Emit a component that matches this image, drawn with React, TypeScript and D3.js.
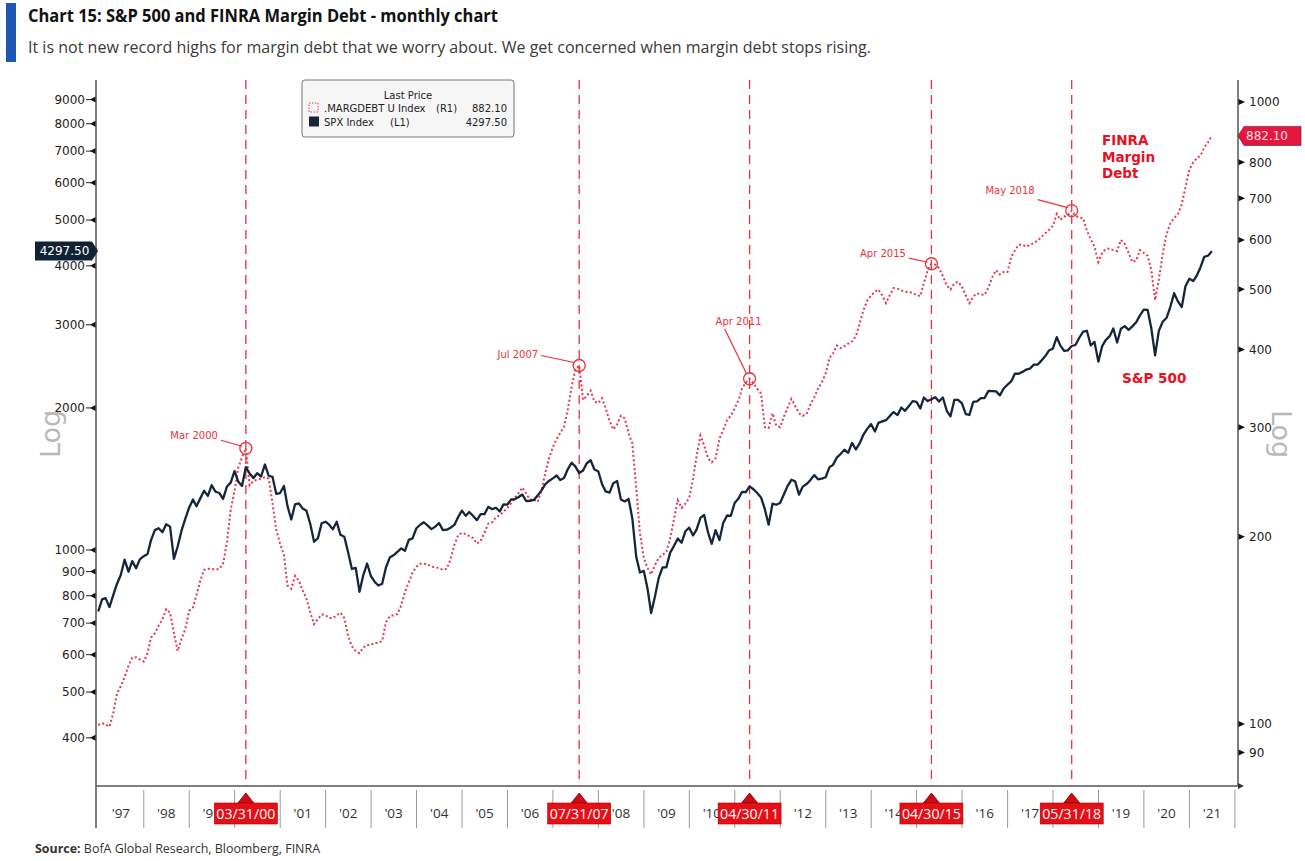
import React from "react";
import * as d3 from "d3";

// ---------------- DATA ----------------
// Monthly observations, first one = Dec 1996 month-end, last = Jun 2021.
const firstObs = { year: 1996, month: 11 };

const spxMonthly: number[] = [
  740.74,
  786.16, 790.82, 757.12, 801.34, 848.28, 885.14, 954.31, 899.47, 947.28, 914.62, 955.4, 970.43,
  980.28, 1049.34, 1101.75, 1111.75, 1090.82, 1133.84, 1120.67, 957.28, 1017.01, 1098.67, 1163.63, 1229.23,
  1279.64, 1238.33, 1286.37, 1335.18, 1301.84, 1372.71, 1328.72, 1320.41, 1282.71, 1362.93, 1388.91, 1469.25,
  1394.46, 1366.42, 1498.58, 1452.43, 1420.6, 1454.6, 1430.83, 1517.68, 1436.51, 1429.4, 1314.95, 1320.28,
  1366.01, 1239.94, 1160.33, 1249.46, 1255.82, 1224.38, 1211.23, 1133.58, 1040.94, 1059.78, 1139.45, 1148.08,
  1130.2, 1106.73, 1147.39, 1076.92, 1067.14, 989.82, 911.62, 916.07, 815.28, 885.76, 936.31, 879.82,
  855.7, 841.15, 848.18, 916.92, 963.59, 974.5, 990.31, 1008.01, 995.97, 1050.71, 1058.2, 1111.92,
  1131.13, 1144.94, 1126.21, 1107.3, 1120.68, 1140.84, 1101.72, 1104.24, 1114.58, 1130.2, 1173.82, 1211.92,
  1181.27, 1203.6, 1180.59, 1156.85, 1191.5, 1191.33, 1234.18, 1220.33, 1228.81, 1207.01, 1249.48, 1248.29,
  1280.08, 1280.66, 1294.83, 1310.61, 1270.09, 1270.2, 1276.66, 1303.82, 1335.85, 1377.94, 1400.63, 1418.3,
  1438.24, 1406.82, 1420.86, 1482.37, 1530.62, 1503.35, 1455.27, 1473.99, 1526.75, 1549.38, 1481.14, 1468.36,
  1378.55, 1330.63, 1322.7, 1385.59, 1400.38, 1280.0, 1267.38, 1282.83, 1166.36, 968.75, 896.24, 903.25,
  825.88, 735.09, 797.87, 872.81, 919.14, 919.32, 987.48, 1020.62, 1057.08, 1036.19, 1095.63, 1115.1,
  1073.87, 1104.49, 1169.43, 1186.69, 1089.41, 1030.71, 1101.6, 1049.33, 1141.2, 1183.26, 1180.55, 1257.64,
  1286.12, 1327.22, 1325.83, 1363.61, 1345.2, 1320.64, 1292.28, 1218.89, 1131.42, 1253.3, 1246.96, 1257.6,
  1312.41, 1365.68, 1408.47, 1397.91, 1310.33, 1362.16, 1379.32, 1406.58, 1440.67, 1412.16, 1416.18, 1426.19,
  1498.11, 1514.68, 1569.19, 1597.57, 1630.74, 1606.28, 1685.73, 1632.97, 1681.55, 1756.54, 1805.81, 1848.36,
  1782.59, 1859.45, 1872.34, 1883.95, 1923.57, 1960.23, 1930.67, 2003.37, 1972.29, 2018.05, 2067.56, 2058.9,
  1994.99, 2104.5, 2067.89, 2085.51, 2107.39, 2063.11, 2103.84, 1972.18, 1920.03, 2079.36, 2080.41, 2043.94,
  1940.24, 1932.23, 2059.74, 2065.3, 2096.95, 2098.86, 2173.6, 2170.95, 2168.27, 2126.15, 2198.81, 2238.83,
  2278.87, 2363.64, 2362.72, 2384.2, 2411.8, 2423.41, 2470.3, 2471.65, 2519.36, 2575.26, 2647.58, 2673.61,
  2823.81, 2713.83, 2640.87, 2648.05, 2705.27, 2718.37, 2816.29, 2901.52, 2913.98, 2711.74, 2760.17, 2506.85,
  2704.1, 2784.49, 2834.4, 2945.83, 2752.06, 2941.76, 2980.38, 2926.46, 2976.74, 3037.56, 3140.98, 3230.78,
  3225.52, 2954.22, 2584.59, 2912.43, 3044.31, 3100.29, 3271.12, 3500.31, 3363.0, 3269.96, 3621.63, 3756.07,
  3714.24, 3811.15, 3972.89, 4181.17, 4204.11, 4297.5,
];

const marginDebtMonthly: number[] = [
  99.6,
  100.3, 99.8, 99.0, 104, 112, 115, 119, 124, 127.8, 128, 127, 126,
  130, 137.7, 140, 143.8, 147.4, 153, 151, 140, 131, 137, 142, 152,
  154, 161, 170, 177, 177.6, 177.6, 177, 177.6, 181, 196, 221, 237,
  259, 268, 277.5, 242, 246, 247, 248, 249.5, 248, 226.5, 205, 195,
  187, 167, 165, 173, 170, 164, 159, 151, 144.7, 147.5, 150, 149.6,
  148, 148, 149.6, 151, 148, 138.5, 133.4, 131, 130, 132.7, 134, 134,
  135, 135, 136, 145.7, 149, 149.6, 150.2, 155, 163, 169, 175, 179,
  181, 181, 180.6, 179, 178.8, 178, 177, 177.6, 184, 194, 201, 203,
  202, 200.5, 199, 195, 197, 203, 210, 211, 215, 216.5, 219.5, 222.5,
  226.5, 231, 235, 240, 235, 229.5, 229.5, 227.5, 237, 253, 267, 278.5,
  287.5, 293.5, 300.5, 320, 348, 371, 377, 332, 337, 343.5, 330, 328,
  334, 322, 307, 297.5, 303, 313, 310, 293.5, 282.5, 240, 203, 185,
  178, 174, 180, 185, 187, 189, 199, 213.5, 229, 222.5, 226, 231,
  248, 269.5, 291, 280.5, 267.5, 263.5, 267.5, 287.5, 297, 308, 313, 321.5,
  331.5, 346, 354, 359, 353, 346, 340, 300, 299, 316, 302, 300,
  312, 322.5, 333, 324.5, 316, 313, 315, 326.5, 335, 346, 354, 366,
  388, 394, 406, 402, 405, 409, 412, 420, 440, 463, 479.5, 488.5,
  495.5, 499.5, 488.5, 475, 489.5, 502, 501, 498, 495.5, 494.5, 493.5, 489.5,
  487.5, 511, 536.5, 549.5, 547.5, 540.5, 525, 507, 499.5, 511, 514, 505,
  488.5, 475, 486.5, 492.5, 490.5, 489.5, 503, 523, 536.5, 528, 533, 533,
  564, 577, 589.5, 589.5, 585.5, 589.5, 593.5, 598.5, 607, 615, 623, 632.5,
  661, 646.5, 654, 658, 669, 656, 652, 650, 621, 601.5, 585.5, 553,
  572, 580, 581.5, 578, 576, 600, 591.5, 572, 553, 556, 578, 572,
  566, 537.5, 480.5, 518, 570, 612, 638, 651, 660, 685, 729, 778,
  800, 812, 820, 845, 862, 882.1,
];

const leftTickValues = [400, 500, 600, 700, 800, 900, 1000, 2000, 3000, 4000, 5000, 6000, 7000, 8000, 9000];
const rightTickValues = [90, 100, 200, 300, 400, 500, 600, 700, 800, 1000];
const yearTickLabels = [
  "'97", "'98", "'99", "'00", "'01", "'02", "'03", "'04", "'05", "'06", "'07", "'08", "'09",
  "'10", "'11", "'12", "'13", "'14", "'15", "'16", "'17", "'18", "'19", "'20", "'21",
];
const eventDates = ["03/31/00", "07/31/07", "04/30/11", "04/30/15", "05/31/18"];
const peakLabels = ["Mar 2000", "Jul 2007", "Apr 2011", "Apr 2015", "May 2018"];
const legendNames = [".MARGDEBT U Index", "SPX Index"];
const legendAxes = ["(R1)", "(L1)"];
const legendLast = ["882.10", "4297.50"];

// ---------------- LAYOUT ----------------
const W = 1305;
const H = 861;
const PL = 96;
const PR = 1238;
const PT = 80;
const PB = 786;
const FLAG_W = 63;

const RED = "#e8323c";
const NAVY = "#15263b";
const AXIS_FONT = "'DejaVu Sans', Verdana, sans-serif";
const UI_FONT = "'Liberation Sans Narrow', 'Open Sans', 'Noto Sans', sans-serif";

// label offsets relative to the circled point (layout only)
const peakLayout = [
  { tx: -28, ty: -9, anchor: "end", x1: -25, y1: -8, x2: -4, y2: -2 },
  { tx: -41, ty: -8, anchor: "end", x1: -38, y1: -10, x2: -5, y2: -3 },
  { tx: -11, ty: -54, anchor: "middle", x1: -25, y1: -50, x2: -3, y2: -5 },
  { tx: -25.5, ty: -6.5, anchor: "end", x1: -22.5, y1: -5.7, x2: -4, y2: -1.5 },
  { tx: -37, ty: -16.5, anchor: "end", x1: -34, y1: -11, x2: -4, y2: -3 },
];

export default function App() {
  const x = d3
    .scaleTime()
    .domain([new Date(1996, 11, 13), new Date(2022, 0, 26)])
    .range([PL, PR]);
  const yL = d3.scaleLog().domain([1000, 10000]).range([550, 78]);
  const yR = d3.scaleLog().domain([100, 1000]).range([724, 102]);

  const dates = spxMonthly.map(
    (_, i) => new Date(firstObs.year, firstObs.month + i + 1, 0)
  );

  const spxLine = d3
    .line<number>()
    .x((_, i) => x(dates[i]))
    .y((d) => yL(d))(spxMonthly) as string;
  const mdLine = d3
    .line<number>()
    .x((_, i) => x(dates[i]))
    .y((d) => yR(d))(marginDebtMonthly) as string;

  const parseEvt = d3.timeParse("%m/%d/%y");
  const parsePeak = d3.timeParse("%b %Y");
  const eventX = eventDates.map((s) => x(parseEvt(s) as Date));

  const peaks = peakLabels.map((lab) => {
    const dt = parsePeak(lab) as Date;
    const idx = (dt.getFullYear() - firstObs.year) * 12 + dt.getMonth() - firstObs.month;
    return { lab, cx: x(dates[idx]), cy: yR(marginDebtMonthly[idx]) };
  });

  const lastSpx = spxMonthly[spxMonthly.length - 1];
  const lastMd = marginDebtMonthly[marginDebtMonthly.length - 1];
  const tagL = yL(lastSpx);
  const tagR = yR(lastMd);

  // year labels: skip those fully hidden under a date flag (as in the reference)
  const yearItems = yearTickLabels.map((lab, i) => {
    const yr = 1997 + i;
    const lx = x(new Date(yr, 6, 1));
    const hidden = eventX.some((ex) => Math.abs(lx - ex) < FLAG_W / 2 - 4);
    return { lab, yr, lx, sx: x(new Date(yr + 1, 0, 1)), hidden };
  });

  return (
    <div style={{ position: "absolute", left: 0, top: 0 }}>
      <svg width={W} height={H} style={{ display: "block", background: "#fff" }}>
        <defs>
          <clipPath id="axisClip">
            {eventX.length >= 0 && (
              <path
                d={
                  `M0,790 H${W} V832 H0 Z ` +
                  eventX
                    .map((ex) => `M${ex - FLAG_W / 2},803 v21 h${FLAG_W} v-21 Z`)
                    .join(" ")
                }
                clipRule="evenodd"
              />
            )}
          </clipPath>
        </defs>

        {/* header */}
        <rect x={6} y={3} width={10} height={59} fill="#1e56b4" />
        <text
          x={28}
          y={22}
          fontFamily={UI_FONT}
          fontWeight="bold"
          fontSize={18.5}
          fill="#111"
          textLength={470}
          lengthAdjust="spacingAndGlyphs"
        >
          Chart 15: S&amp;P 500 and FINRA Margin Debt - monthly chart
        </text>
        <text
          x={28}
          y={53}
          fontFamily={UI_FONT}
          fontSize={16.5}
          fill="#3a3a3a"
          textLength={843}
          lengthAdjust="spacingAndGlyphs"
        >
          It is not new record highs for margin debt that we worry about. We get concerned when margin debt stops rising.
        </text>

        {/* Log labels */}
        <text
          transform={`translate(50,434) rotate(-90)`}
          textAnchor="middle"
          dominantBaseline="central"
          fontFamily={AXIS_FONT}
          fontSize={27}
          fill="#b8b8b8"
        >
          Log
        </text>
        <text
          transform={`translate(1281,434) rotate(90)`}
          textAnchor="middle"
          dominantBaseline="central"
          fontFamily={AXIS_FONT}
          fontSize={27}
          fill="#b8b8b8"
        >
          Log
        </text>

        {/* event dashed lines */}
        {eventX.map((xx, i) => (
          <line
            key={"ev" + i}
            x1={xx}
            x2={xx}
            y1={PT}
            y2={PB}
            stroke={RED}
            strokeWidth={1.3}
            strokeDasharray="9 6"
          />
        ))}

        {/* series */}
        <path d={mdLine} fill="none" stroke="#e2384f" strokeWidth={2} strokeDasharray="2 2.4" />
        <path d={spxLine} fill="none" stroke={NAVY} strokeWidth={2.3} strokeLinejoin="round" />

        {/* peak annotations */}
        {peaks.map((p, i) => {
          const L = peakLayout[i];
          return (
            <g key={"pk" + i}>
              <circle cx={p.cx} cy={p.cy} r={6} fill="none" stroke={RED} strokeWidth={1.3} />
              <line
                x1={p.cx + L.x1}
                y1={p.cy + L.y1}
                x2={p.cx + L.x2}
                y2={p.cy + L.y2}
                stroke={RED}
                strokeWidth={1.2}
              />
              <text
                x={p.cx + L.tx}
                y={p.cy + L.ty}
                textAnchor={L.anchor as any}
                fontFamily={AXIS_FONT}
                fontSize={10}
                fill={RED}
              >
                {p.lab}
              </text>
            </g>
          );
        })}

        {/* series labels */}
        <text fontFamily={AXIS_FONT} fontWeight="bold" fontSize={13.5} fill="#e8101e">
          <tspan x={1102} y={145}>FINRA</tspan>
          <tspan x={1102} y={162}>Margin</tspan>
          <tspan x={1102} y={178}>Debt</tspan>
        </text>
        <text x={1122} y={383} fontFamily={AXIS_FONT} fontWeight="bold" fontSize={13.5} fill="#e8101e">
          S&amp;P 500
        </text>

        {/* axes lines */}
        <line x1={PL} x2={PL} y1={PT} y2={828} stroke="#555" strokeWidth={1.5} />
        <line x1={PR} x2={PR} y1={PT} y2={PB} stroke="#555" strokeWidth={1.5} />
        <line x1={PL} x2={PR} y1={PB} y2={PB} stroke="#555" strokeWidth={1.5} />
        <path d={`M${PR},${PB - 3} L${PR + 6},${PB} L${PR},${PB + 3} Z`} fill="#333" />

        {/* left ticks */}
        {leftTickValues.map((v) => {
          const yy = yL(v);
          return (
            <g key={"lt" + v}>
              <line x1={86} x2={91} y1={yy} y2={yy} stroke="#222" strokeWidth={1} />
              <path d={`M${PL - 0.5},${yy - 3} L${PL - 0.5},${yy + 3} L${90},${yy} Z`} fill="#111" />
              <text
                x={85}
                y={yy + 4.3}
                textAnchor="end"
                fontFamily={AXIS_FONT}
                fontSize={12}
                fill="#222"
              >
                {v}
              </text>
            </g>
          );
        })}

        {/* right ticks */}
        {rightTickValues.map((v) => {
          const yy = yR(v);
          return (
            <g key={"rt" + v}>
              <path d={`M${PR + 0.5},${yy - 3} L${PR + 0.5},${yy + 3} L${PR + 7},${yy} Z`} fill="#111" />
              <text x={1249} y={yy + 4.3} fontFamily={AXIS_FONT} fontSize={12} fill="#222">
                {v}
              </text>
            </g>
          );
        })}

        {/* x axis separators and year labels */}
        <g clipPath="url(#axisClip)">
          {yearItems.map((it) => (
            <g key={"yr" + it.lab}>
              <line x1={it.sx} x2={it.sx} y1={PB} y2={828} stroke="#9a9a9a" strokeWidth={1} />
              {!it.hidden && (
                <text
                  x={it.lx}
                  y={818}
                  textAnchor="middle"
                  fontFamily="'Open Sans', sans-serif"
                  fontSize={13.5}
                  fill="#333"
                >
                  {it.lab}
                </text>
              )}
            </g>
          ))}
        </g>

        {/* event flags */}
        {eventX.map((xx, i) => (
          <g key={"fl" + i}>
            <path
              d={`M${xx - 8},${803} L${xx},${793} L${xx + 8},${803} Z`}
              fill="#d10a14"
              stroke="#6d0000"
              strokeWidth={0.8}
            />
            <rect
              x={xx - FLAG_W / 2}
              y={803}
              width={FLAG_W}
              height={21}
              fill="#e60f17"
              stroke="#a00000"
              strokeWidth={0.6}
            />
            <text
              x={xx}
              y={819}
              textAnchor="middle"
              fontFamily={UI_FONT}
              fontSize={15}
              fill="#fff"
              textLength={59}
              lengthAdjust="spacingAndGlyphs"
            >
              {eventDates[i]}
            </text>
          </g>
        ))}

        {/* last price tags */}
        <path d={`M35,${tagL - 9.5} H92 L98,${tagL} L92,${tagL + 9.5} H35 Z`} fill="#0f2236" />
        <text
          x={64.5}
          y={tagL + 4.3}
          textAnchor="middle"
          fontFamily={AXIS_FONT}
          fontSize={12}
          fill="#fff"
        >
          {lastSpx.toFixed(2)}
        </text>
        <path
          d={`M${PR},${tagR} L${PR + 6},${tagR - 9.5} H1301 V${tagR + 9.5} H${PR + 6} Z`}
          fill="#e5173e"
          stroke="#5a0d18"
          strokeWidth={0.6}
        />
        <text x={1246} y={tagR + 4.3} fontFamily={AXIS_FONT} fontSize={12} fill="#ffe0e6">
          {lastMd.toFixed(2)}
        </text>

        {/* legend */}
        <rect x={302} y={80} width={212} height={57} rx={3} fill="#f6f6f6" stroke="#777" strokeWidth={1} />
        <text x={408} y={99} textAnchor="middle" fontFamily={AXIS_FONT} fontSize={10} fill="#222">
          Last Price
        </text>
        {legendNames.map((nm, i) => {
          const yy = 112 + i * 14;
          return (
            <g key={"lg" + nm}>
              {i === 0 ? (
                <rect
                  x={309}
                  y={yy - 9}
                  width={9}
                  height={9}
                  fill="none"
                  stroke="#e2384f"
                  strokeWidth={1}
                  strokeDasharray="1.5 1.5"
                />
              ) : (
                <rect x={309} y={yy - 9.5} width={10} height={10} fill={NAVY} />
              )}
              <text x={324} y={yy} fontFamily={AXIS_FONT} fontSize={10} fill="#222">
                {nm}
              </text>
              <text x={i === 0 ? 436 : 390} y={yy} fontFamily={AXIS_FONT} fontSize={10} fill="#222">
                {legendAxes[i]}
              </text>
              <text x={507} y={yy} textAnchor="end" fontFamily={AXIS_FONT} fontSize={10} fill="#222">
                {legendLast[i]}
              </text>
            </g>
          );
        })}

        {/* source */}
        <text
          x={35}
          y={853}
          fontFamily={UI_FONT}
          fontSize={12.5}
          fill="#333"
          textLength={285}
          lengthAdjust="spacingAndGlyphs"
        >
          <tspan fontWeight="bold">Source:</tspan> BofA Global Research, Bloomberg, FINRA
        </text>
      </svg>
    </div>
  );
}
